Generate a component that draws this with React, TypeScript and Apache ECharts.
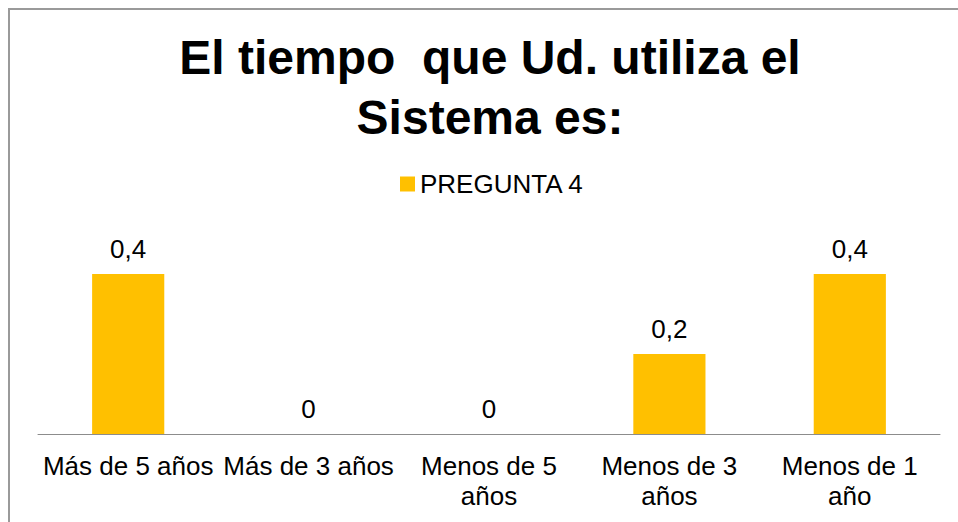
import React, { useEffect, useRef } from "react";
import * as echarts from "echarts";

const titleText = "El tiempo  que Ud. utiliza el\nSistema es:";
const seriesName = "PREGUNTA 4";
const categories = ["Más de 5 años", "Más de 3 años", "Menos de 5\naños", "Menos de 3\naños", "Menos de 1\naño"];
const values = [0.4, 0, 0, 0.2, 0.4];

const FONT = "Liberation Sans, Arial, sans-serif";

export default function App() {
  const ref = useRef<HTMLDivElement>(null);
  useEffect(() => {
    const chart = echarts.init(ref.current!, null, { renderer: "svg" });
    chart.setOption({
      animation: false,
      textStyle: { fontFamily: FONT },
      graphic: [
        {
          type: "rect",
          shape: { x: 9, y: 9, width: 1000, height: 600 },
          style: { fill: "none", stroke: "#9a9a9a", lineWidth: 2 },
          silent: true,
        },
      ],
      title: {
        text: titleText,
        left: 485,
        textAlign: "center",
        top: 22,
        textStyle: {
          fontSize: 48,
          fontWeight: "bold",
          color: "#000",
          lineHeight: 60,
          fontFamily: FONT,
        },
      },
      legend: {
        top: 166,
        left: 395,
        icon: "rect",
        itemWidth: 15,
        itemHeight: 15,
        itemGap: 8,
        textStyle: { fontSize: 26, color: "#000", fontFamily: FONT },
        data: [seriesName],
      },
      grid: { left: 38, right: 18, top: 234, bottom: 88, containLabel: false },
      xAxis: {
        type: "category",
        data: categories,
        axisLine: { lineStyle: { color: "#8c8c8c", width: 1 } },
        axisTick: { show: false },
        axisLabel: {
          fontSize: 26,
          color: "#000",
          lineHeight: 30,
          margin: 17,
          interval: 0,
          fontFamily: FONT,
        },
      },
      yAxis: {
        type: "value",
        min: 0,
        max: 0.5,
        show: false,
        splitLine: { show: false },
      },
      series: [
        {
          name: seriesName,
          type: "bar",
          data: values,
          barWidth: "40%",
          itemStyle: { color: "#FFC000" },
          label: {
            show: true,
            position: "top",
            distance: 12,
            fontSize: 26,
            color: "#000",
            fontFamily: FONT,
            formatter: (p: any) => String(p.value).replace(".", ","),
          },
        },
      ],
    });
    return () => chart.dispose();
  }, []);
  return (
    <div
      ref={ref}
      style={{ position: "fixed", left: 0, top: 0, width: 958, height: 522, background: "#fff" }}
    />
  );
}
